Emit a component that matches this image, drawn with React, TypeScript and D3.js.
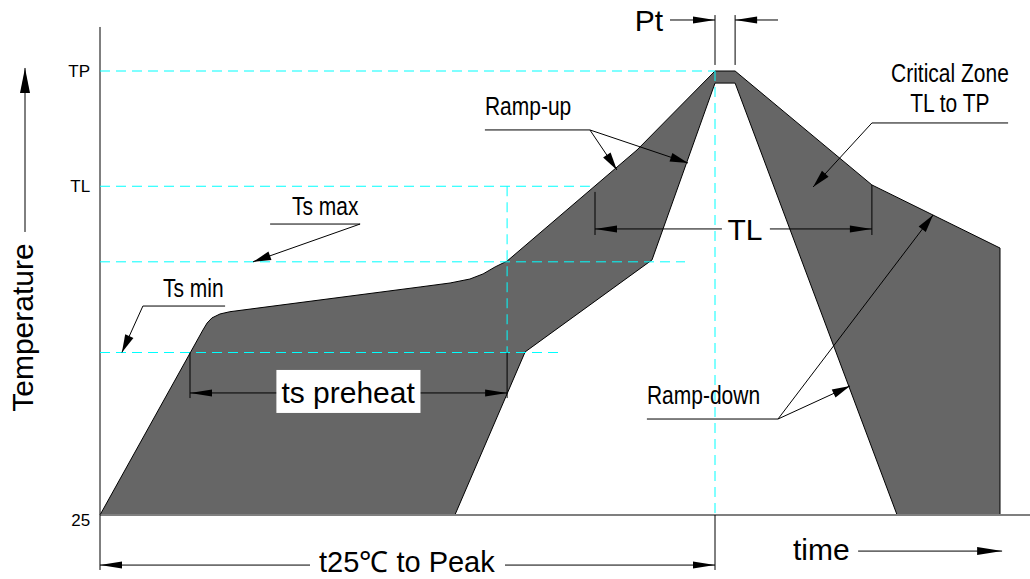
import React, { useEffect, useRef } from 'react';
import * as d3 from 'd3';

type Pt = [number, number]; // [time s, temperature °C]

// temperature levels shown on the left of the axis
const levelLabels = ['TP', 'TL', '25'];
const levelTemps = [260, 199, 25];
const tsMin = 111;
const tsMax = 159;
const peakTime = 205;
const peakEnd = 211.7;

// outer edge of the profile window
const upperEdge: Pt[] = [
  [0, 25], [34.3, 122.9], [35.7, 126.6], [37.3, 129.3], [40, 131.4], [43.3, 132.6],
  [106.7, 145.7], [116.7, 147.8], [123.3, 149.9], [127.7, 152.6], [131.7, 156.3], [135.7, 159.4],
  [179, 218.2], [205, 260], [211.7, 260], [257.3, 199.7], [300, 166.3], [300, 25],
];
// inner edge, going back to the start
const lowerEdge: Pt[] = [
  [265.7, 25], [211.7, 253.6], [205, 253.6], [184, 160], [141.7, 111.3], [118.3, 25],
];

// cyan guide lines [from, to]
const guides: [Pt, Pt][] = [
  [[0, 260], [205, 260]],
  [[0, 199], [163.3, 199]],
  [[0, tsMax], [195, tsMax]],
  [[0, tsMin], [153.3, tsMin]],
  [[135.7, 199], [135.7, tsMin]],
  [[205, 260], [205, 25]],
];

// leader notes: text position, underline, arrow tips
const notes = [
  { lines: ['Ts max'], at: [64, 183.8] as Pt, under: [[56.7, 179], [86.7, 179]] as Pt[], tips: [[51, tsMax]] as Pt[], anchor: 'start' },
  { lines: ['Ts min'], at: [21, 140.4] as Pt, under: [[41.7, 135.6], [14.3, 135.6]] as Pt[], tips: [[7.3, tsMin]] as Pt[], anchor: 'start' },
  { lines: ['Ramp-up'], at: [128.3, 236.7] as Pt, under: [[128.3, 228.8], [163.3, 228.8]] as Pt[], tips: [[172.3, 207.6], [196, 211.3]] as Pt[], anchor: 'start' },
  { lines: ['Critical Zone', 'TL to TP'], at: [283.3, 254.2] as Pt, under: [[302.7, 232.5], [257.3, 232.5]] as Pt[], tips: [[237.7, 198.6]] as Pt[], anchor: 'middle' },
  { lines: ['Ramp-down'], at: [182.3, 83.8] as Pt, under: [[182.3, 75.8], [226, 75.8]] as Pt[], tips: [[250, 93.3], [277.7, 183.8]] as Pt[], anchor: 'start' },
];

export default function App() {
  const svgRef = useRef<SVGSVGElement>(null);

  useEffect(() => {
    if (!svgRef.current) return;
    document.body.style.margin = '0';
    const svg = d3.select(svgRef.current);
    svg.selectAll('*').remove();

    const x = d3.scaleLinear().domain([0, 300]).range([100, 1000]);
    const y = d3.scaleLinear().domain([25, 260]).range([515, 71]);
    const font = '"Liberation Sans", Arial, sans-serif';
    const P = (p: Pt): Pt => [x(p[0]), y(p[1])];

    const seg = (a: Pt, b: Pt, color = '#000', w = 1, dash?: string) => {
      const l = svg.append('line')
        .attr('x1', x(a[0])).attr('y1', y(a[1]))
        .attr('x2', x(b[0])).attr('y2', y(b[1]))
        .attr('stroke', color).attr('stroke-width', w);
      if (dash) l.attr('stroke-dasharray', dash);
      return l;
    };

    // filled arrowhead, tip at `to`, pointing away from `from`
    const head = (from: Pt, to: Pt, len = 18, half = 4.5) => {
      const [fx, fy] = P(from);
      const [tx, ty] = P(to);
      const d = Math.hypot(tx - fx, ty - fy);
      const ux = (tx - fx) / d, uy = (ty - fy) / d;
      const bx = tx - ux * len, by = ty - uy * len;
      svg.append('path')
        .attr('d', `M${tx},${ty}L${bx - uy * half},${by + ux * half}L${bx + uy * half},${by - ux * half}Z`)
        .attr('fill', '#000');
    };

    const arrow = (from: Pt, to: Pt, len = 18, half = 4.5) => {
      seg(from, to);
      head(from, to, len, half);
    };

    // profile window
    const line = d3.line<Pt>().x(d => x(d[0])).y(d => y(d[1]));
    svg.append('path')
      .attr('d', line([...upperEdge, ...lowerEdge]) + 'Z')
      .attr('fill', '#666666')
      .attr('stroke', '#000')
      .attr('stroke-width', 1)
      .attr('stroke-linejoin', 'round');

    // base line and axis
    seg([0, 25], [310, 25], '#7f7f7f', 2);
    seg([0, 283.3], [0, -4.1], '#000', 1);

    // guides
    guides.forEach(([a, b]) => seg(a, b, '#00ffff', 1, '10,6'));

    // level labels
    levelLabels.forEach((lab, i) => {
      svg.append('text')
        .attr('x', x(-3.3)).attr('y', y(levelTemps[i]) + (lab === '25' ? 11 : 6))
        .attr('text-anchor', 'end')
        .attr('font-family', font).attr('font-size', 17)
        .text(lab);
    });

    // Temperature axis title + arrow
    svg.append('text')
      .attr('transform', `translate(${x(-22.3)},${y(124.2)}) rotate(-90)`)
      .attr('text-anchor', 'middle')
      .attr('font-family', font).attr('font-size', 30)
      .text('Temperature');
    arrow([-25, 174.8], [-25, 261.6], 25, 5);

    // ts preheat dimension
    seg([30, tsMin], [30, 86.9]);
    seg([135.7, tsMin], [135.7, 86.9]);
    arrow([82.7, 89.6], [30, 89.6], 22, 3.5);
    arrow([82.7, 89.6], [135.7, 89.6], 22, 3.5);
    const lbl = svg.append('text')
      .attr('x', x(82.7)).attr('y', y(89.6) + 10)
      .attr('text-anchor', 'middle')
      .attr('font-family', font).attr('font-size', 30)
      .text('ts preheat');
    const bb = (lbl.node() as SVGTextElement).getBBox();
    svg.insert('rect', () => lbl.node())
      .attr('x', bb.x - 5).attr('y', y(89.6) - 23)
      .attr('width', bb.width + 10).attr('height', 43)
      .attr('fill', '#fff');

    // TL dimension
    seg([165, 196], [165, 173.2]);
    seg([257.3, 199.7], [257.3, 173.2]);
    arrow([207.3, 176.4], [165, 176.4], 22, 3.5);
    arrow([223.3, 176.4], [257.3, 176.4], 22, 3.5);
    svg.append('text')
      .attr('x', x(215)).attr('y', y(176.4) + 11)
      .attr('text-anchor', 'middle')
      .attr('font-family', font).attr('font-size', 30)
      .text('TL');

    // Pt dimension
    seg([peakTime, 289.6], [peakTime, 263.2]);
    seg([peakEnd, 289.6], [peakEnd, 263.2]);
    arrow([190, 287], [peakTime, 287], 22, 3.5);
    arrow([226, 287], [peakEnd, 287], 22, 3.5);
    svg.append('text')
      .attr('x', x(187.7)).attr('y', y(281.2))
      .attr('text-anchor', 'end')
      .attr('font-family', font).attr('font-size', 30)
      .text('Pt');

    // t25 to Peak dimension
    seg([peakTime, 25], [peakTime, -4.1]);
    arrow([70, -1.5], [0, -1.5], 22, 3.5);
    arrow([135, -1.5], [peakTime, -1.5], 22, 3.5);
    svg.append('text')
      .attr('x', x(102.3)).attr('y', y(-5.2))
      .attr('text-anchor', 'middle')
      .attr('font-family', font).attr('font-size', 29)
      .text('t25℃ to Peak');

    // time arrow
    svg.append('text')
      .attr('x', x(231)).attr('y', y(1.2))
      .attr('font-family', font).attr('font-size', 30)
      .text('time');
    arrow([252.7, 5.9], [300.7, 5.9], 25, 4);

    // leader notes (condensed lettering)
    notes.forEach(n => {
      const [tx, ty] = P(n.at);
      n.lines.forEach((s, i) => {
        svg.append('text')
          .attr('transform', `translate(${tx},${ty + i * 30}) scale(0.84,1)`)
          .attr('text-anchor', n.anchor)
          .attr('font-family', font).attr('font-size', 25)
          .text(s);
      });
      seg(n.under[0], n.under[1]);
      n.tips.forEach(t => arrow(n.under[1], t, 18, 4.5));
    });
  }, []);

  return <svg ref={svgRef} width={1030} height={579} style={{ display: 'block', background: '#fff' }} />;
}
